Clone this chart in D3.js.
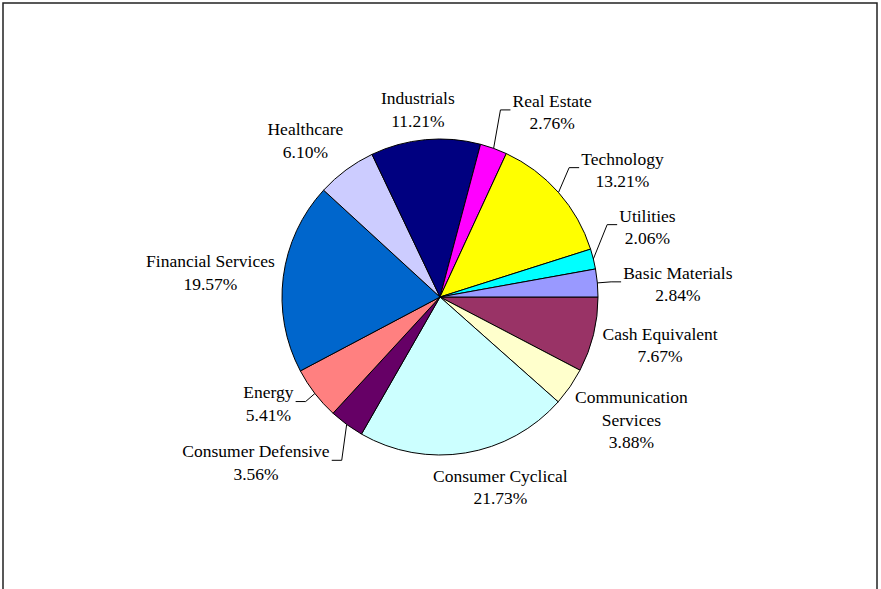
<!DOCTYPE html>
<html>
<head>
<meta charset="utf-8">
<script src="https://cdn.jsdelivr.net/npm/d3@7"></script>
<style>
    body { margin: 0; background: #fff; }
    svg text { font-family: "Liberation Serif", "Times New Roman", serif; font-size: 17.5px; fill: #000; }
</style>
</head>
<body>
<div id="chart"></div>
<script>
// sectors, clockwise from 3 o'clock
var sectors = ["Cash Equivalent", "Communication Services", "Consumer Cyclical", "Consumer Defensive",
    "Energy", "Financial Services", "Healthcare", "Industrials", "Real Estate", "Technology",
    "Utilities", "Basic Materials"];
var weights = [7.67, 3.88, 21.73, 3.56, 5.41, 19.57, 6.10, 11.21, 2.76, 13.21, 2.06, 2.84];
var colors = ["#993366", "#FFFFCC", "#CCFFFF", "#660066", "#FF8080", "#0066CC", "#CCCCFF",
    "#000080", "#FF00FF", "#FFFF00", "#00FFFF", "#9999FF"];

// label tweaks (dx, dy, leader line)
var labelNudge = {
    "Cash Equivalent": [-1, 2, false],
    "Communication Services": [5, 7, false],
    "Consumer Cyclical": [22, 0, false],
    "Consumer Defensive": [-40, 10, true],
    "Energy": [-17, -11, true],
    "Financial Services": [3, 0, false],
    "Healthcare": [-11, -2, false],
    "Industrials": [-3, 4, false],
    "Real Estate": [41, -4, true],
    "Technology": [24, 0, true],
    "Utilities": [15, -24, true],
    "Basic Materials": [14, 4, true]
};

var width = 881, height = 589;
var cx = 440, cy = 297, radius = 158, gap = 12, lineH = 22.5;

var svg = d3.select("#chart").append("svg")
    .attr("width", width)
    .attr("height", height);

// chart frame
svg.append("rect")
    .attr("x", 3).attr("y", 3)
    .attr("width", 874).attr("height", 620)
    .attr("fill", "none")
    .attr("stroke", "#222")
    .attr("stroke-width", 1.5);

var data = [];
for (var i = 0; i < sectors.length; i++) {
    data.push({ label: sectors[i], value: weights[i], color: colors[i] });
}

var pie = d3.pie()
    .sort(null)
    .startAngle(Math.PI / 2)
    .endAngle(Math.PI / 2 + 2 * Math.PI)
    .value(function (d) { return d.value; });

var arc = d3.arc().innerRadius(0).outerRadius(radius);

var g = svg.append("g").attr("transform", "translate(" + cx + "," + cy + ")");

var arcs = pie(data);

g.selectAll("path.slice")
    .data(arcs)
    .enter().append("path")
    .attr("class", "slice")
    .attr("d", arc)
    .attr("fill", function (d) { return d.data.color; })
    .attr("stroke", "#000")
    .attr("stroke-width", 1);

var fmt = d3.format(".2%");

arcs.forEach(function (d) {
    var mid = (d.startAngle + d.endAngle) / 2;
    var s = Math.sin(mid), c = -Math.cos(mid);
    var lines = d.data.label.length > 20 ? d.data.label.split(" ") : [d.data.label];
    lines.push(fmt(d.data.value / 100));

    var t = g.append("text").attr("text-anchor", "middle");
    lines.forEach(function (ln, k) {
        t.append("tspan").attr("x", 0).attr("y", k * lineH).text(ln);
    });
    var bb = t.node().getBBox();
    var bw = bb.width, bh = lines.length * lineH;
    var nudge = labelNudge[d.data.label] || [0, 0, false];
    // block centre: just outside the rim, pushed outward by half the box
    var bx = s * (radius + gap) + s * bw / 2 + nudge[0];
    var by = c * (radius + gap) + c * bh / 2 + nudge[1];
    var top = by - bh / 2;
    t.selectAll("tspan")
        .attr("x", bx)
        .attr("y", function (ln, k) { return top + k * lineH + lineH / 2; })
        .attr("dy", "0.35em");

    if (nudge[2]) {
        var ex = s * radius, ey = c * radius;
        var side = bx > 0 ? 1 : -1;
        var endX = bx - side * (bw / 2 + 2);
        var elbX = endX - side * 10;
        var ly = by - 2;
        g.append("polyline")
            .attr("points", [[ex, ey], [elbX, ly], [endX, ly]].map(function (p) { return p.join(","); }).join(" "))
            .attr("fill", "none")
            .attr("stroke", "#000")
            .attr("stroke-width", 1);
    }
});
</script>
</body>
</html>
